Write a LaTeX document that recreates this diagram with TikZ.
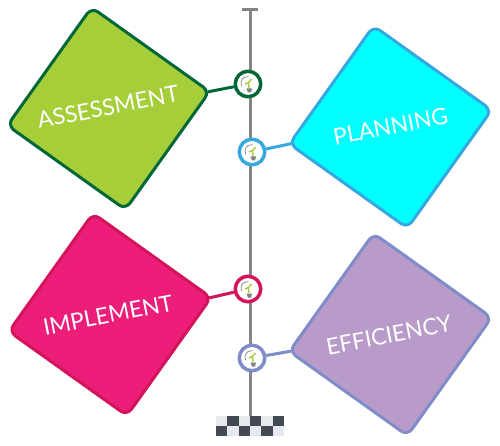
\documentclass[tikz,border=0pt]{standalone}
\usepackage{fontspec}
\setmainfont{Lato}
\usetikzlibrary{calc}

\definecolor{assessfill}{HTML}{A6CE39}
\definecolor{assessline}{HTML}{006838}
\definecolor{planfill}{HTML}{00FFFF}
\definecolor{planline}{HTML}{35A8E0}
\definecolor{implfill}{HTML}{ED1E79}
\definecolor{implline}{HTML}{D4145A}
\definecolor{efffill}{HTML}{B89BC9}
\definecolor{effline}{HTML}{7F8CC9}
\definecolor{stemgray}{HTML}{858585}
\definecolor{flagdark}{HTML}{434A54}
\definecolor{flaglight}{HTML}{E6E9EE}

\tikzset{
  card/.style={draw=#1, line width=3pt, rounded corners=8pt, rotate=-35.5, minimum width=145pt, minimum height=145pt, inner sep=0pt},
  cardtext/.style={white, rotate=11, font=\fontsize{22.8}{26}\selectfont, inner sep=0pt},
  hub/.style={circle, draw=#1, fill=white, line width=3.5pt, minimum size=25.5pt, inner sep=0pt},
  link/.style={draw=#1, line width=3pt},
  bulb/.pic={
    \draw[gray, line width=.7pt] (-6.1,-2.25) arc (210:80:6.5);
    \fill[gray] (-1.5,-4.5) -- (4,-4.5) -- (3,-8.5) -- (0,-8.5) -- cycle;
    \draw[assessfill, line width=1.4pt] (1,-4) -- (.5,1.5) -- (3.5,5);
    \draw[assessfill, line width=1.4pt] (.5,1.5) -- (-3,0);
  }
}

\begin{document}
\begin{tikzpicture}[x=1pt, y=1pt]

\useasboundingbox (0, 0) rectangle (500, -446);

% stem and its end marks
\coordinate (stemtop) at (250, -10);
\coordinate (stembot) at (250, -416);
\draw[stemgray, line width=3pt] (stemtop) -- (stembot);
\draw[stemgray, line width=3pt] ($(stemtop)+(-8, 0)$) -- ($(stemtop)+(8, 0)$);

\foreach \i in {0, 2, 4} {
  \fill[flaglight] (216+11.33*\i, -416) rectangle +(11.33, -10);
  \fill[flagdark] (216+11.33*\i+11.33, -416) rectangle +(11.33, -10);
  \fill[flagdark] (216+11.33*\i, -426) rectangle +(11.33, -10);
  \fill[flaglight] (216+11.33*\i+11.33, -426) rectangle +(11.33, -10);
}

% the four cards
\node[card=assessline, fill=assessfill] (assess) at (108.5, -108.5) {};
\node[card=planline, fill=planfill] (plan) at (390.5, -127) {};
\node[card=implline, fill=implfill] (impl) at (110, -314.5) {};
\node[card=effline, fill=efffill] (eff) at (390.5, -334.5) {};

\node[cardtext] (assesstext) at (108, -107) {ASSESSMENT};
\node[cardtext] (plantext) at (390.5, -126.5) {PLANNING};
\node[cardtext] (impltext) at (108, -315) {IMPLEMENT};
\node[cardtext] (efftext) at (389, -335) {EFFICIENCY};

% hubs on the stem
\node[hub=assessline] (assesshub) at (248, -84) {};
\node[hub=planline] (planhub) at (252, -152) {};
\node[hub=implline] (implhub) at (248, -289) {};
\node[hub=effline] (effhub) at (252, -358) {};

\pic at (assesshub) {bulb};
\pic at (planhub) {bulb};
\pic at (implhub) {bulb};
\pic at (effhub) {bulb};

% links start just inside the rounded corners
\draw[link=assessline] ($(assess)!.96!(assess.north east)$) -- (assesshub);
\draw[link=planline] ($(plan)!.96!(plan.south west)$) -- (planhub);
\draw[link=implline] ($(impl)!.96!(impl.north east)$) -- (implhub);
\draw[link=effline] ($(eff)!.96!(eff.south west)$) -- (effhub);

\end{tikzpicture}
\end{document}
